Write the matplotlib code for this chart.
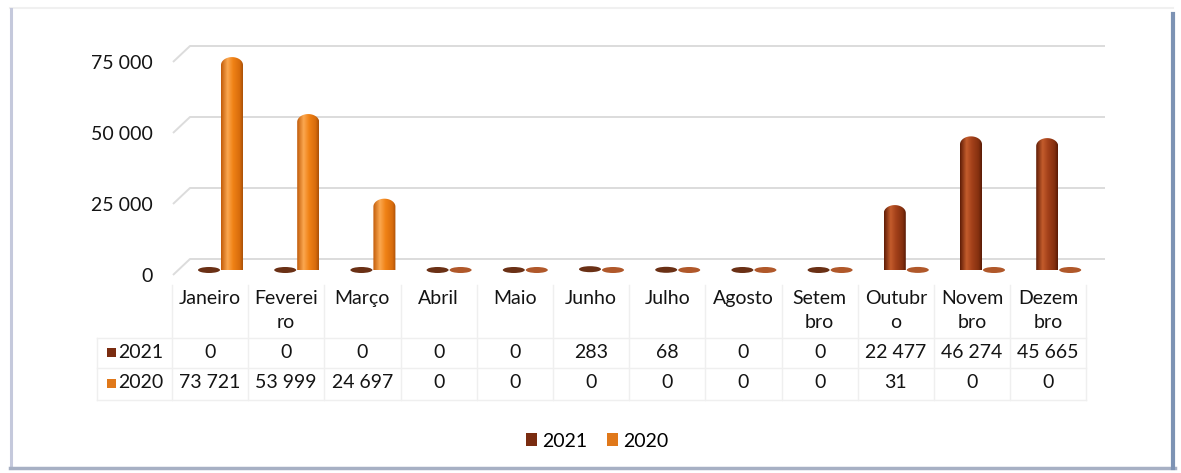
import numpy as np
import matplotlib
matplotlib.use("Agg")
import matplotlib.pyplot as plt
from matplotlib.path import Path
from matplotlib.patches import PathPatch, Ellipse, Patch, Rectangle
from matplotlib.colors import LinearSegmentedColormap
from matplotlib.transforms import blended_transform_factory
from matplotlib.lines import Line2D

# ---------------- data ----------------
months = ["Janeiro", "Feverei\nro", "Março", "Abril", "Maio", "Junho", "Julho",
          "Agosto", "Setem\nbro", "Outubr\no", "Novem\nbro", "Dezem\nbro"]
series_names = ["2021", "2020"]
values_2021 = [0, 0, 0, 0, 0, 283, 68, 0, 0, 22477, 46274, 45665]
values_2020 = [73721, 53999, 24697, 0, 0, 0, 0, 0, 0, 31, 0, 0]
y_ticks = [0, 25000, 50000, 75000]

# ---------------- styles ----------------
W, H = 1181, 473
FONT = "Lato"
FS = 14
TXT = "#141414"
C2021 = "#7a2c10"
C2020 = "#e0781a"
DISC2021 = "#6a3015"
DISC2020 = "#b0582a"
cmap2021 = LinearSegmentedColormap.from_list(
    "c21", [(0, "#5e1c06"), (0.3, "#c45c2c"), (0.55, "#a3401a"), (0.85, "#84300f"), (1, "#581a05")])
cmap2020 = LinearSegmentedColormap.from_list(
    "c20", [(0, "#c05a08"), (0.3, "#fba850"), (0.55, "#f08216"), (0.85, "#d86c0c"), (1, "#a85008")])

plt.rcParams['font.family'] = [FONT, 'DejaVu Sans']

fig = plt.figure(figsize=(W / 100, H / 100), dpi=100)


def fx(px):
    return px / W


def fy(py):
    return 1 - py / H


def fmt(v):
    return f"{v:,}".replace(",", " ")


# layout (pixels)
COL0, COLW = 210.0, 76.2
n = len(months)
ax_left = COL0 - COLW / 2
ax_right = COL0 + COLW * (n - 0.5)
BASE_Y = 270
PX_PER = 72.2 / 25000
YMAX = 80000

WALL_LEFT, WALL_RIGHT = 173, 1105
LBL_Y0 = 275
WPX = 71 / 25000
DEPTH_PX = 16
SLANT_PX = 17

# ---------------- wall axes (gridlines + tick labels) ----------------
axw = fig.add_axes([fx(WALL_LEFT), fy(LBL_Y0), (WALL_RIGHT - WALL_LEFT) / W, YMAX * WPX / H])
axw.set_zorder(0)
axw.set_xlim(0, 1)
axw.set_ylim(0, YMAX)
axw.patch.set_visible(False)
for s in axw.spines.values():
    s.set_visible(False)
axw.set_xticks([])
axw.set_yticks(y_ticks)
axw.set_yticklabels([fmt(t) for t in y_ticks], fontsize=FS, color=TXT)
axw.tick_params(axis='y', length=0, pad=20 * 0.72)
d = DEPTH_PX / WPX
sl = SLANT_PX / (WALL_RIGHT - WALL_LEFT)
for t in y_ticks:
    axw.plot([0, sl, 1], [t, t + d, t + d], color="#dcdcdc", lw=1.4,
             solid_capstyle='butt', clip_on=False)

# ---------------- bar axes ----------------
ax = fig.add_axes([fx(ax_left), fy(BASE_Y), (ax_right - ax_left) / W, YMAX * PX_PER / H])
ax.set_zorder(1)
ax.patch.set_visible(False)
for s in ax.spines.values():
    s.set_visible(False)
ax.set_xticks([])
ax.set_yticks([])

BAR_W = 22 / COLW
OFFS = [-1 / COLW, 22 / COLW]


def cylinder(xc, v, cmap, disc_color, z):
    upx = 1 / PX_PER
    rx = BAR_W / 2
    ryb = 3 * upx
    ryc = 8 * upx
    if v * PX_PER < 4:
        e = Ellipse((xc, v), BAR_W, 2 * ryb, facecolor=disc_color, edgecolor='none',
                    zorder=z, clip_on=False)
        ax.add_patch(e)
        return
    th = np.linspace(np.pi, 0, 40)
    top = np.column_stack([xc + rx * np.cos(th), v - ryc + ryc * np.sin(th)])
    th2 = np.linspace(0, -np.pi, 40)
    bot = np.column_stack([xc + rx * np.cos(th2), ryb * np.sin(th2)])
    verts = np.vstack([top, bot, top[:1]])
    codes = [Path.MOVETO] + [Path.LINETO] * (len(verts) - 2) + [Path.CLOSEPOLY]
    p = PathPatch(Path(verts, codes), facecolor='none', edgecolor='none', clip_on=False)
    ax.add_patch(p)
    grad = np.linspace(0, 1, 256).reshape(1, -1)
    ax.imshow(grad, extent=[xc - rx, xc + rx, -ryb, v], cmap=cmap, aspect='auto',
              zorder=z, clip_path=p, interpolation='bilinear')


for i in range(n):
    cylinder(i + OFFS[1], values_2020[i], cmap2020, DISC2020, 2)
    cylinder(i + OFFS[0], values_2021[i], cmap2021, DISC2021, 3)

ax.set_xlim(-0.5, n - 0.5)
ax.set_ylim(0, YMAX)
ax.set_aspect('auto')

# ---------------- data table ----------------
tr = blended_transform_factory(ax.transData, fig.transFigure)
HDR_Y, LINE_DY = 298, 25
ROW_Y = [352, 383]
for i, m in enumerate(months):
    for k, line in enumerate(m.split("\n")):
        fig.text(i, fy(HDR_Y + k * LINE_DY), line, transform=tr, ha='center', va='center',
                 fontsize=FS, color=TXT)
for r, vals in enumerate([values_2021, values_2020]):
    for i, v in enumerate(vals):
        fig.text(i, fy(ROW_Y[r]), fmt(v), transform=tr, ha='center', va='center',
                 fontsize=FS, color=TXT)

sq_cols = [C2021, C2020]
for r, name in enumerate(series_names):
    fig.add_artist(Rectangle((fx(107), fy(ROW_Y[r] + 4.5)), 9 / W, 9 / H,
                             transform=fig.transFigure, facecolor=sq_cols[r], edgecolor='none'))
    fig.text(fx(118), fy(ROW_Y[r]), name, ha='left', va='center', fontsize=FS, color=TXT)

LINE_C = "#efefef"
for i in range(n + 1):
    xb = COL0 + COLW * (i - 0.5)
    fig.add_artist(Line2D([fx(xb), fx(xb)], [fy(285), fy(400)], transform=fig.transFigure,
                          color=LINE_C, lw=1))
fig.add_artist(Line2D([fx(97), fx(97)], [fy(338), fy(400)], transform=fig.transFigure,
                      color=LINE_C, lw=1))
for yy in [338, 368, 400]:
    fig.add_artist(Line2D([fx(97), fx(ax_right)], [fy(yy), fy(yy)], transform=fig.transFigure,
                          color=LINE_C, lw=1))

# ---------------- legend ----------------
fig.legend(handles=[Patch(facecolor=C2021), Patch(facecolor=C2020)], labels=series_names,
           loc='center', bbox_to_anchor=(fx(597), fy(441)), ncol=2, frameon=False,
           handlelength=0.6, handleheight=0.6, handletextpad=0.25, columnspacing=1.0,
           fontsize=FS)

# ---------------- outer frame ----------------
fig.add_artist(Line2D([fx(10), fx(1173)], [fy(8), fy(8)], transform=fig.transFigure,
                      color="#f0f0f0", lw=1.5))
fig.add_artist(Line2D([fx(11), fx(11)], [fy(9), fy(468)], transform=fig.transFigure,
                      color="#c5c9dc", lw=2.2))
fig.add_artist(Line2D([fx(10), fx(1175)], [fy(468), fy(468)], transform=fig.transFigure,
                      color="#a7b0c4", lw=2.5))
fig.add_artist(Line2D([fx(1173), fx(1173)], [fy(14), fy(468)], transform=fig.transFigure,
                      color="#7d93b4", lw=3))

fig.savefig("out.png", dpi=100)
